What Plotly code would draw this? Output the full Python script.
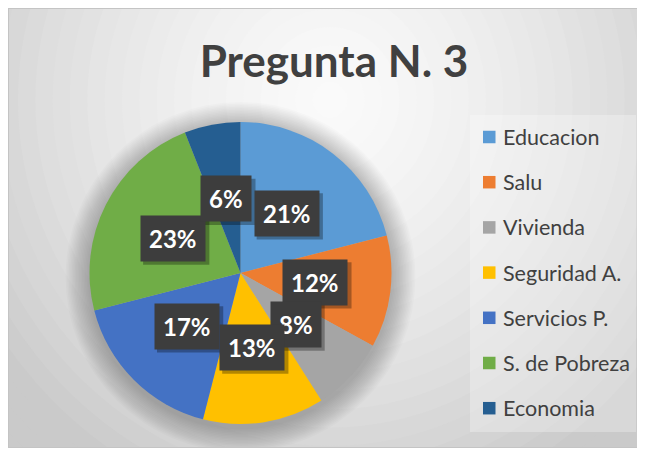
import math
import plotly.graph_objects as go

# ---- data ----
labels = ["Educacion", "Salu", "Vivienda", "Seguridad A.", "Servicios P.", "S. de Pobreza", "Economia"]
values = [21, 12, 8, 13, 17, 23, 6]
colors = ["#5B9BD5", "#ED7D31", "#A5A5A5", "#FFC000", "#4472C4", "#70AD47", "#255E91"]
title_text = "Pregunta N. 3"

# The page body has an 8px margin, so the figure starts at window pixel (8, 8).
OFF = 8
W, H = 633, 440
FONT = "Lato"

def px(x):
    return (x - OFF) / W

def py(y):
    return 1 - (y - OFF) / H

# pie geometry (window pixels)
CX, CY, R = 240.5, 273, 151

shapes = []
# radial gradient background
gcx, gcy, ax, ay = 330, 100, 400, 420
steps = 30
for k in range(steps, 0, -1):
    t = k / steps * 1.3
    c = int(round(250 - 45 * min(t, 1.05) ** 1.5))
    shapes.append(dict(type="circle", xref="paper", yref="paper", layer="below",
                       x0=px(gcx - t * ax), x1=px(gcx + t * ax),
                       y0=py(gcy + t * ay), y1=py(gcy - t * ay),
                       fillcolor=f"rgb({c},{c},{c})", line=dict(width=0)))
# soft shadow around pie
for k in range(16, 0, -1):
    rr = R + k * 1.5
    shapes.append(dict(type="circle", xref="paper", yref="paper", layer="below",
                       x0=px(CX - rr), x1=px(CX + rr),
                       y0=py(CY + 4 + rr), y1=py(CY + 4 - rr),
                       fillcolor="rgba(0,0,0,0.017)", line=dict(width=0)))
# legend panel
LX0, LY0, LX1, LY1 = 470, 115, 636, 432
shapes.append(dict(type="rect", xref="paper", yref="paper", layer="below",
                   x0=px(LX0), x1=px(LX1), y0=py(LY1), y1=py(LY0),
                   fillcolor="rgba(255,255,255,0.28)", line=dict(width=0)))
# frame border
shapes.append(dict(type="rect", xref="paper", yref="paper", layer="below",
                   x0=0, x1=1, y0=0, y1=1, fillcolor="rgba(0,0,0,0)",
                   line=dict(width=2, color="#c4c4c4")))

annotations = []
# legend entries (built from labels / colors)
row0, gap, sq = 137, 45.2, 12.5
for i, (lab, col) in enumerate(zip(labels, colors)):
    yc = row0 + i * gap
    shapes.append(dict(type="rect", xref="paper", yref="paper", layer="above",
                       x0=px(483), x1=px(483 + sq), y0=py(yc + sq / 2), y1=py(yc - sq / 2),
                       fillcolor=col, line=dict(width=0)))
    annotations.append(dict(x=px(501), y=py(yc), xref="paper", yref="paper",
                            xanchor="left", yanchor="middle", showarrow=False,
                            text=lab, font=dict(family=FONT, size=21.5, color="#404040")))

# data labels: boxes at half radius along mid-angle of each slice
LFS, PAD = 24, 8
total = sum(values)
cum = 0
for v in values:
    mid = (cum + v / 2) / total * 2 * math.pi
    cum += v
    lx = CX + 0.5 * R * math.sin(mid)
    ly = CY - 0.5 * R * math.cos(mid)
    txt = f"{round(100 * v / total)}%"
    # drop shadow of the label box (approximate box size from the text length)
    bw = 0.58 * LFS * (len(txt) - 1) + 0.85 * LFS + 2 * PAD + 2
    bh = 1.3 * LFS + 2 * PAD - 1
    shapes.append(dict(type="rect", xref="paper", yref="paper", layer="above",
                       x0=px(lx - bw / 2 + 3), x1=px(lx + bw / 2 + 3),
                       y0=py(ly + bh / 2 + 3), y1=py(ly - bh / 2 + 3),
                       fillcolor="rgba(0,0,0,0.3)", line=dict(width=0)))
    annotations.append(dict(x=px(lx), y=py(ly), xref="paper", yref="paper",
                            xanchor="center", yanchor="middle",
                            showarrow=False, text=f"<b>{txt}</b>",
                            font=dict(family=FONT, size=LFS, color="white"),
                            bgcolor="#3d3d3d", borderpad=PAD))

fig = go.Figure(go.Pie(
    labels=labels, values=values, sort=False, direction="clockwise", rotation=0,
    marker=dict(colors=colors, line=dict(width=0)), textinfo="none",
    hoverinfo="label+percent",
    domain=dict(x=[px(CX - R), px(CX + R)], y=[py(CY + R), py(CY - R)]),
))

fig.update_layout(
    width=W, height=H, autosize=False,
    margin=dict(l=0, r=0, t=0, b=0),
    paper_bgcolor="#d6d6d6", plot_bgcolor="#d6d6d6",
    showlegend=False,
    title=dict(text=f"<b>{title_text}</b>", x=px(334), xanchor="center",
               y=py(62), yanchor="middle", yref="container",
               font=dict(family=FONT, size=44, color="#404040")),
    shapes=shapes, annotations=annotations,
)

fig.write_html("out.html")
